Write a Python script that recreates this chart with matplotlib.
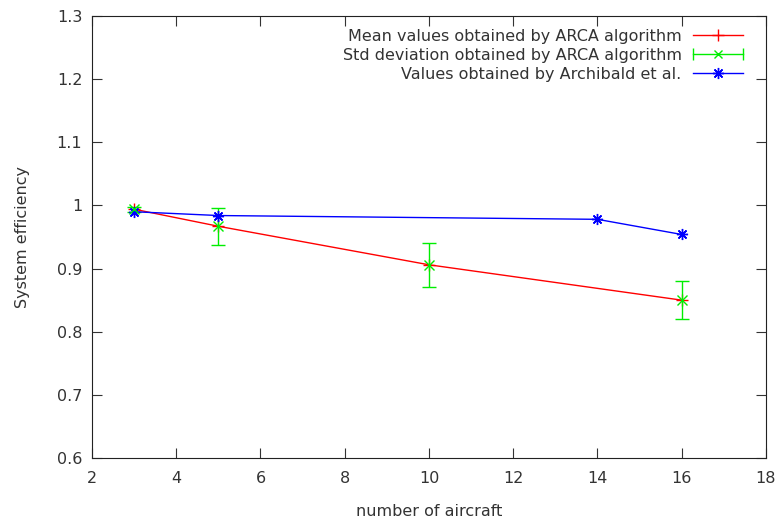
import matplotlib
matplotlib.use('Agg')
import matplotlib.pyplot as plt
from matplotlib.lines import Line2D
from matplotlib.legend_handler import HandlerBase

# ARCA algorithm results
arca_n = [3, 5, 10, 16]
arca_mean = [0.994, 0.967, 0.906, 0.850]
arca_std = [0.004, 0.029, 0.035, 0.030]

# Archibald et al.
arch_n = [3, 5, 14, 16]
arch_vals = [0.990, 0.984, 0.978, 0.954]

GREEN = '#00ee00'
TXT = '#333333'
ASTER = (8, 2, 0)  # gnuplot style asterisk

plt.rcParams['font.family'] = 'DejaVu Sans'


class ErrbarHandler(HandlerBase):
    # gnuplot-like key sample: horizontal bar with caps and a centre marker
    def create_artists(self, legend, orig, xd, yd, w, h, fs, trans):
        y = h / 2 - yd
        x0, x1 = -xd, -xd + w
        xm = (x0 + x1) / 2
        line = Line2D([x0, x1], [y, y], color=GREEN, lw=1, transform=trans)
        caps = Line2D([x0, x1], [y, y], ls='none', marker='|', ms=8,
                      mew=1, color=GREEN, transform=trans)
        mark = Line2D([xm], [y], ls='none', marker='x', ms=6, mew=1,
                      color=GREEN, transform=trans)
        return [line, caps, mark]


fig = plt.figure(figsize=(7.77, 5.21), dpi=100)
ax = fig.add_axes([0.1184, 0.1209, 0.8674, 0.8484])

l1, = ax.plot(arca_n, arca_mean, color='red', marker='+', markersize=8, lw=1,
              label='Mean values obtained by ARCA algorithm')
eb = ax.errorbar(arca_n, arca_mean, yerr=arca_std, fmt='x', color=GREEN,
                 markersize=7, elinewidth=1, capsize=5, capthick=1)
l3, = ax.plot(arch_n, arch_vals, color='blue', marker=ASTER, markersize=8, lw=1,
              label='Values obtained by Archibald et al.')

ax.set_xlim(2, 18)
ax.set_ylim(0.6, 1.3)
ax.set_xticks(range(2, 19, 2))
ax.set_yticks([0.6, 0.7, 0.8, 0.9, 1.0, 1.1, 1.2, 1.3])
ax.set_yticklabels(['0.6', '0.7', '0.8', '0.9', '1', '1.1', '1.2', '1.3'])
ax.tick_params(direction='in', top=True, right=True, length=7, colors=TXT,
               labelsize=11.5)
ax.tick_params(axis='x', pad=9)
ax.tick_params(axis='y', pad=7)
for s in ax.spines.values():
    s.set_color('#222222')

ax.set_xlabel('number of aircraft', fontsize=11.5, color=TXT, labelpad=13)
ax.set_ylabel('System efficiency', fontsize=11.5, color=TXT, labelpad=19)

proxy = Line2D([], [])
leg = ax.legend([l1, proxy, l3],
                ['Mean values obtained by ARCA algorithm',
                 'Std deviation obtained by ARCA algorithm',
                 'Values obtained by Archibald et al.'],
                handler_map={proxy: ErrbarHandler()},
                loc='upper right', bbox_to_anchor=(0.9896, 1.007),
                frameon=False, markerfirst=False,
                handlelength=3.14, fontsize=11.5, borderaxespad=0.4,
                labelspacing=0.25, handletextpad=0.7, borderpad=0.6)
for t in leg.get_texts():
    t.set_color(TXT)

fig.savefig('out.png', dpi=100)
